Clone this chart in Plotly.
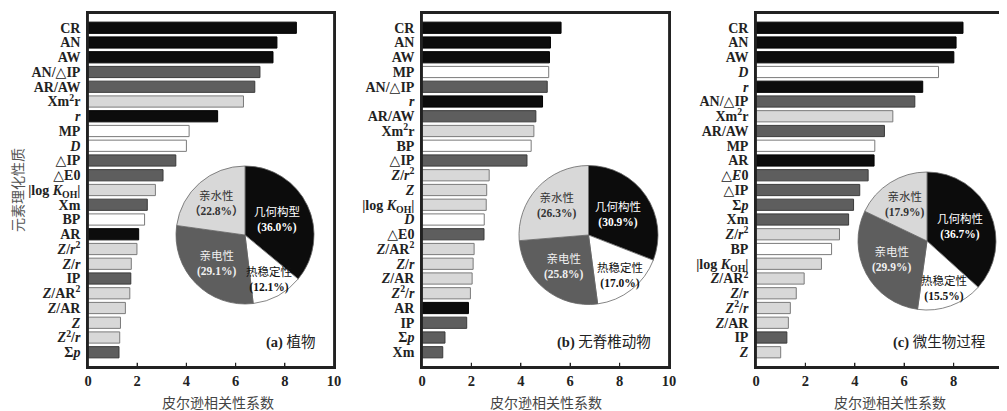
import math
import plotly.graph_objects as go

# page body has an 8px margin; shift everything by OFF so the picture aligns
OFF = 8
W, H = 1007 - OFF, 411 - OFF

# ---------------- data ----------------
labels_a = ["CR", "AN", "AW", "AN/△IP", "AR/AW", "Xm<sup>2</sup>r", "<i>r</i>", "MP", "<i>D</i>",
            "△IP", "△E0", "|log <i>K</i><sub>OH</sub>|", "Xm", "BP", "AR", "<i>Z</i>/<i>r</i><sup>2</sup>",
            "<i>Z</i>/<i>r</i>", "IP", "<i>Z</i>/AR<sup>2</sup>", "<i>Z</i>/AR", "<i>Z</i>",
            "<i>Z</i><sup>2</sup>/<i>r</i>", "Σ<i>p</i>"]
values_a = [8.47, 7.68, 7.52, 6.99, 6.78, 6.32, 5.27, 4.11, 4.00, 3.57, 3.05, 2.74, 2.41, 2.30, 2.06,
            1.99, 1.76, 1.74, 1.70, 1.52, 1.32, 1.29, 1.26]
groups_a = ["G", "G", "G", "E", "E", "H", "G", "T", "T", "E", "E", "H", "E", "T", "G", "H", "H", "E",
            "H", "H", "H", "H", "E"]

labels_b = ["CR", "AN", "AW", "MP", "AN/△IP", "<i>r</i>", "AR/AW", "Xm<sup>2</sup>r", "BP", "△IP",
            "<i>Z</i>/<i>r</i><sup>2</sup>", "<i>Z</i>", "|log <i>K</i><sub>OH</sub>|", "<i>D</i>", "△E0",
            "<i>Z</i>/AR<sup>2</sup>", "<i>Z</i>/<i>r</i>", "<i>Z</i>/AR", "<i>Z</i><sup>2</sup>/<i>r</i>",
            "AR", "IP", "Σ<i>p</i>", "Xm"]
values_b = [5.63, 5.20, 5.16, 5.13, 5.07, 4.88, 4.61, 4.53, 4.42, 4.25, 2.72, 2.62, 2.60, 2.52, 2.51,
            2.11, 2.07, 2.03, 1.96, 1.88, 1.81, 0.93, 0.84]
groups_b = ["G", "G", "G", "T", "E", "G", "E", "H", "T", "E", "H", "H", "H", "T", "E", "H", "H", "H",
            "H", "G", "E", "E", "E"]

labels_c = ["CR", "AN", "AW", "<i>D</i>", "<i>r</i>", "AN/△IP", "Xm<sup>2</sup>r", "AR/AW", "MP", "AR",
            "△<i>E</i>0", "△IP", "Σ<i>p</i>", "Xm", "<i>Z</i>/<i>r</i><sup>2</sup>", "BP",
            "|log <i>K</i><sub>OH</sub>|", "<i>Z</i>/AR<sup>2</sup>", "<i>Z</i>/<i>r</i>",
            "<i>Z</i><sup>2</sup>/<i>r</i>", "<i>Z</i>/AR", "IP", "<i>Z</i>"]
values_c = [8.38, 8.10, 8.01, 7.39, 6.75, 6.43, 5.54, 5.20, 4.81, 4.78, 4.54, 4.20, 3.95, 3.75, 3.38,
            3.06, 2.65, 1.95, 1.63, 1.39, 1.31, 1.25, 1.00]
groups_c = ["G", "G", "G", "T", "G", "E", "H", "E", "T", "G", "E", "E", "E", "E", "H", "T", "H", "H",
            "H", "H", "H", "E", "H"]

pie_groups = ["G", "T", "E", "H"]
pie_names_a = ["几何构型", "热稳定性", "亲电性", "亲水性"]
pie_values_a = [36.0, 12.1, 29.1, 22.8]
pie_names_b = ["几何构性", "热稳定性", "亲电性", "亲水性"]
pie_values_b = [30.9, 17.0, 25.8, 26.3]
pie_names_c = ["几何构性", "热稳定性", "亲电性", "亲水性"]
pie_values_c = [36.7, 15.5, 29.9, 17.9]

panel_titles = ["<b>(a)</b> 植物", "<b>(b)</b> 无脊椎动物", "<b>(c)</b> 微生物过程"]
x_title = "皮尔逊相关性系数"
y_title = "元素理化性质"
x_ticks = [0, 2, 4, 6, 8, 10]

# ---------------- style ----------------
fill = {"G": "#0c0c0c", "E": "#5e5e5e", "H": "#d8d8d8", "T": "#ffffff"}
edge = {"G": "#000000", "E": "#3a3a3a", "H": "#7a7a7a", "T": "#7a7a7a"}
pie_txt_color = {"G": "#ffffff", "E": "#f0f0f0", "H": "#333333", "T": "#111111"}
pie_rfrac = {"G": 0.52, "T": 0.74, "E": 0.58, "H": 0.62}
SERIF = "Liberation Serif, DejaVu Serif, Noto Sans CJK SC"
CJK = "Noto Sans CJK SC"

# layout positions in reference-picture pixels
frames = [(88, 334), (422, 669), (756, 1003)]
top_px, bot_px = 13, 367
pies = [(245, 235, 69), (588.5, 235, 69.5), (927, 241, 69)]
xtitle_off = [7, 0, 10]


def px_x(p):
    return (p - OFF) / W


def px_y(p):
    return 1 - (p - OFF) / H


panels = [
    (labels_a, values_a, groups_a, pie_names_a, pie_values_a),
    (labels_b, values_b, groups_b, pie_names_b, pie_values_b),
    (labels_c, values_c, groups_c, pie_names_c, pie_values_c),
]

fig = go.Figure()
annotations = []
shapes = []
layout = {}

for i, (labs, vals, grps, pnames, pvals) in enumerate(panels):
    k = "" if i == 0 else str(i + 1)
    xa, ya = "x" + k, "y" + k
    n = len(vals)
    fig.add_trace(go.Bar(
        x=vals, y=list(range(n)), orientation="h", width=0.76,
        marker=dict(color=[fill[g] for g in grps],
                    line=dict(color=[edge[g] for g in grps], width=1)),
        xaxis=xa, yaxis=ya, showlegend=False, hoverinfo="x",
    ))
    l, r = frames[i]
    layout["xaxis" + k] = dict(
        domain=[px_x(l), px_x(r)], range=[0, 10], anchor=ya, automargin=False,
        tickvals=x_ticks, ticktext=[str(t) for t in x_ticks],
        ticks="inside", ticklen=4, tickwidth=1.2, tickcolor="#222",
        showline=True, linewidth=1.6, linecolor="#222", mirror=True,
        showgrid=False, zeroline=False,
        tickfont=dict(family=SERIF, size=14.5, color="#222", weight="bold"),
    )
    layout["yaxis" + k] = dict(
        domain=[px_y(bot_px), px_y(top_px)], range=[n, -1], anchor=xa, automargin=False,
        tickvals=list(range(n)), ticktext=labs, ticks="",
        showline=True, linewidth=1.6, linecolor="#222", mirror=True,
        showgrid=False, zeroline=False, ticklabelstandoff=3,
        tickfont=dict(family=SERIF, size=14, color="#222", weight="bold"),
    )
    shapes.append(dict(type="rect", xref=xa + " domain", yref=ya + " domain",
                       x0=0, x1=1, y0=0, y1=1, line=dict(color="#222", width=1.8),
                       fillcolor="rgba(0,0,0,0)", layer="above"))
    for t in x_ticks[1:-1]:
        shapes.append(dict(type="line", xref=xa, yref=ya + " domain", x0=t, x1=t, y0=0, y1=0.012,
                           line=dict(color="#222", width=1.2), layer="above"))
    cx, cy, rad = pies[i]
    fig.add_trace(go.Pie(
        values=pvals, labels=pnames, sort=False, direction="clockwise", rotation=0,
        textinfo="none", hoverinfo="label+value",
        marker=dict(colors=[fill[g] for g in pie_groups], line=dict(color="#666666", width=0.8)),
        domain=dict(x=[px_x(cx - rad), px_x(cx + rad)], y=[px_y(cy + rad), px_y(cy - rad)]),
        showlegend=False,
    ))
    total = sum(pvals)
    cum = 0.0
    for g, nm, v in zip(pie_groups, pnames, pvals):
        ang = math.radians((cum + v / 2) / total * 360)
        cum += v
        f = pie_rfrac[g]
        px = cx + f * rad * math.sin(ang)
        py = cy - f * rad * math.cos(ang)
        pct = f"（{v:.1f}%）" if (i == 0 and g == "H") else f"({v:.1f}%)"
        annotations.append(dict(
            x=px_x(px), y=px_y(py), xref="paper", yref="paper", showarrow=False,
            xanchor="center", yanchor="middle",
            text=f"{nm}<br><b>{pct}</b>", align="center",
            font=dict(family=SERIF, size=11.5, color=pie_txt_color[g]),
        ))
    annotations.append(dict(
        x=px_x(r - 16), y=px_y(342), xref="paper", yref="paper", showarrow=False,
        xanchor="right", yanchor="middle", text=panel_titles[i],
        font=dict(family=SERIF, size=14.5, color="#222"),
    ))
    annotations.append(dict(
        x=px_x((l + r) / 2 + xtitle_off[i]), y=px_y(402), xref="paper", yref="paper",
        showarrow=False, text=x_title, xanchor="center", yanchor="middle",
        font=dict(family=CJK, size=14, color="#444"),
    ))

annotations.append(dict(
    x=px_x(17), y=px_y(190), xref="paper", yref="paper", showarrow=False, textangle=-90,
    xanchor="center", yanchor="middle",
    text=y_title, font=dict(family=CJK, size=14, color="#555555"),
))

fig.update_layout(
    template="none",
    width=W, height=H, margin=dict(l=0, r=0, t=0, b=0, pad=0, autoexpand=False),
    paper_bgcolor="white", plot_bgcolor="white",
    annotations=annotations, shapes=shapes,
    **layout,
)

fig.write_html("out.html")
